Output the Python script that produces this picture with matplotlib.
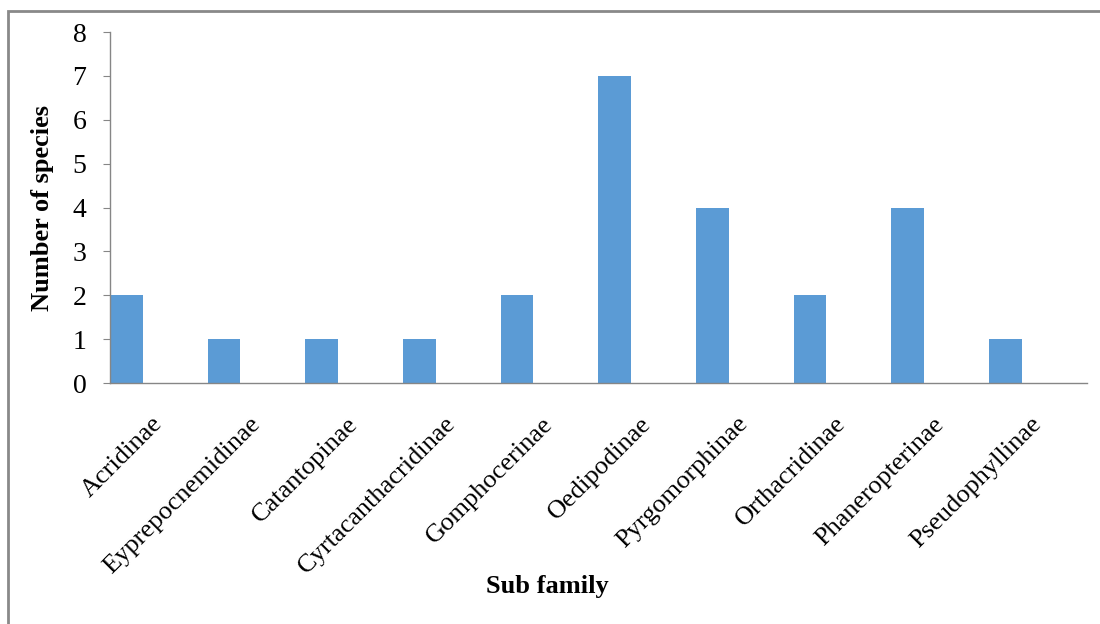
import numpy as np
import matplotlib.pyplot as plt
from matplotlib.patches import Rectangle

plt.rcParams['font.family'] = ['Liberation Serif', 'DejaVu Serif']

subfamilies = ['Acridinae', 'Eyprepocnemidinae', 'Catantopinae', 'Cyrtacanthacridinae',
               'Gomphocerinae', 'Oedipodinae', 'Pyrgomorphinae', 'Orthacridinae',
               'Phaneropterinae', 'Pseudophyllinae']
species = [2, 1, 1, 1, 2, 7, 4, 2, 4, 1]

fig = plt.figure(figsize=(11, 6.24), dpi=100)
ax = fig.add_axes([0.1, 0.386, 0.888, 0.5627])

x = np.arange(len(subfamilies))
# bars sit in the left third of each category slot
ax.bar(x - 0.5, species, width=1/3, align='edge', color='#5B9BD5')

ax.set_xlim(-0.5, len(subfamilies) - 0.5)
ax.set_ylim(0, 8)
ax.set_yticks(range(0, 9))
ax.set_xticks(x)
ax.set_xticklabels(subfamilies, rotation=45, ha='right', va='center',
                   rotation_mode='anchor', fontsize=19)
ax.tick_params(axis='x', length=0, pad=27)
ax.tick_params(axis='y', length=5, color='#868686', labelsize=20, pad=12)

for s in ['top', 'right']:
    ax.spines[s].set_visible(False)
for s in ['left', 'bottom']:
    ax.spines[s].set_color('#868686')
    ax.spines[s].set_linewidth(1)

ax.set_ylabel('Number of species', fontsize=19, fontweight='bold', labelpad=13)
fig.text(0.498, 0.06, 'Sub family', fontsize=19, fontweight='bold',
         ha='center', va='center')

fig.patches.append(Rectangle((8/1100, -0.05), 1.2, 0.05 + 1 - 11/624,
                             transform=fig.transFigure, fill=False,
                             edgecolor='#898989', linewidth=2, clip_on=False))

fig.savefig('out.png', dpi=100)
